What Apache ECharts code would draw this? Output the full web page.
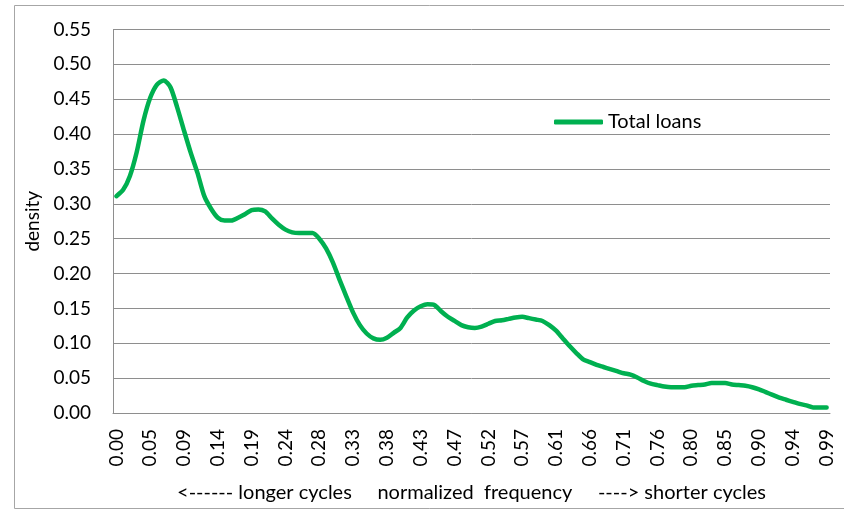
<!DOCTYPE html>
<html>
<head>
<meta charset="utf-8">
<script src="https://cdn.jsdelivr.net/npm/echarts@6/dist/echarts.min.js"></script>
<style>
html,body{margin:0;padding:0;background:#fff;}
#chart{width:844px;height:510px;}
</style>
</head>
<body>
<div id="chart"></div>
<script>
var categories = [
"0.00","0.01","0.02","0.03","0.04","0.05","0.06","0.07","0.08","0.09",
"0.09","0.10","0.11","0.12","0.13","0.14","0.15","0.16","0.17","0.18",
"0.19","0.20","0.21","0.22","0.23","0.24","0.25","0.26","0.26","0.27",
"0.28","0.29","0.30","0.31","0.32","0.33","0.34","0.35","0.36","0.37",
"0.38","0.39","0.40","0.41","0.42","0.43","0.43","0.44","0.45","0.46",
"0.47","0.48","0.49","0.50","0.51","0.52","0.53","0.54","0.55","0.56",
"0.57","0.58","0.59","0.60","0.60","0.61","0.62","0.63","0.64","0.65",
"0.66","0.67","0.68","0.69","0.70","0.71","0.72","0.73","0.74","0.75",
"0.76","0.77","0.77","0.78","0.79","0.80","0.81","0.82","0.83","0.84",
"0.85","0.86","0.87","0.88","0.89","0.90","0.91","0.92","0.93","0.94",
"0.94","0.95","0.96","0.97","0.98","0.99"
];
var totalLoans = [
0.311,0.320,0.340,0.374,0.419,0.452,0.471,0.477,0.467,0.438,
0.405,0.373,0.344,0.311,0.293,0.280,0.276,0.276,0.280,0.285,
0.291,0.292,0.289,0.279,0.270,0.263,0.259,0.258,0.258,0.258,
0.250,0.236,0.216,0.191,0.167,0.144,0.126,0.114,0.107,0.105,
0.108,0.115,0.122,0.137,0.147,0.153,0.156,0.155,0.146,0.138,
0.132,0.126,0.123,0.122,0.124,0.128,0.132,0.133,0.135,0.137,
0.138,0.136,0.134,0.132,0.126,0.118,0.107,0.096,0.086,0.077,
0.073,0.069,0.066,0.063,0.060,0.057,0.055,0.051,0.046,0.042,
0.040,0.038,0.037,0.037,0.037,0.039,0.040,0.041,0.043,0.043,
0.043,0.041,0.040,0.039,0.037,0.034,0.030,0.026,0.022,0.019,
0.016,0.013,0.011,0.008,0.008,0.008
];
var seriesName = "Total loans";
var xAxisTitle = "<------ longer cycles     normalized  frequency     ----> shorter cycles";
var yAxisTitle = "density";

var FONT = "Lato";
var chart = echarts.init(document.getElementById('chart'), null, {renderer: 'canvas'});
chart.setOption({
  backgroundColor: '#ffffff',
  animation: false,
  textStyle: {fontFamily: FONT},
  graphic: [{
    type: 'rect',
    shape: {x: 14.5, y: 5.5, width: 840, height: 503},
    style: {fill: 'none', stroke: '#a6a6a6', lineWidth: 1},
    silent: true
  }],
  legend: {
    left: 549,
    top: 107,
    itemWidth: 49,
    itemHeight: 5,
    itemGap: 0,
    icon: 'roundRect',
    textStyle: {fontFamily: FONT, fontSize: 20, color: '#000', padding: [0,0,0,0]},
    data: [seriesName]
  },
  grid: {left: 113, right: 14, top: 29.5, bottom: 97, containLabel: false},
  xAxis: {
    type: 'category',
    data: categories,
    boundaryGap: true,
    name: xAxisTitle,
    nameLocation: 'middle',
    nameGap: 70,
    nameTextStyle: {fontFamily: FONT, fontSize: 20, color: '#000'},
    axisLine: {show: true, lineStyle: {color: '#8e8e8e', width: 1}},
    axisTick: {show: false},
    axisLabel: {interval: 4, rotate: 90, margin: 16, fontFamily: FONT, fontSize: 19, color: '#000'},
    splitLine: {show: false}
  },
  yAxis: {
    type: 'value',
    min: 0, max: 0.55, interval: 0.05,
    name: yAxisTitle,
    nameLocation: 'middle',
    nameGap: 70,
    nameTextStyle: {fontFamily: FONT, fontSize: 19, color: '#000'},
    axisLine: {show: true, lineStyle: {color: '#8e8e8e', width: 1}},
    axisTick: {show: false},
    axisLabel: {margin: 22, fontFamily: FONT, fontSize: 19, color: '#000',
      formatter: function (v) { return v.toFixed(2); }},
    splitLine: {show: true, lineStyle: {color: '#8e8e8e', width: 1}}
  },
  series: [{
    name: seriesName,
    type: 'line',
    data: totalLoans,
    showSymbol: false,
    symbol: 'none',
    smooth: 0.25,
    lineStyle: {color: '#00b050', width: 4.5, cap: 'round', join: 'round'},
    itemStyle: {color: '#00b050'}
  }]
});
</script>
</body>
</html>
